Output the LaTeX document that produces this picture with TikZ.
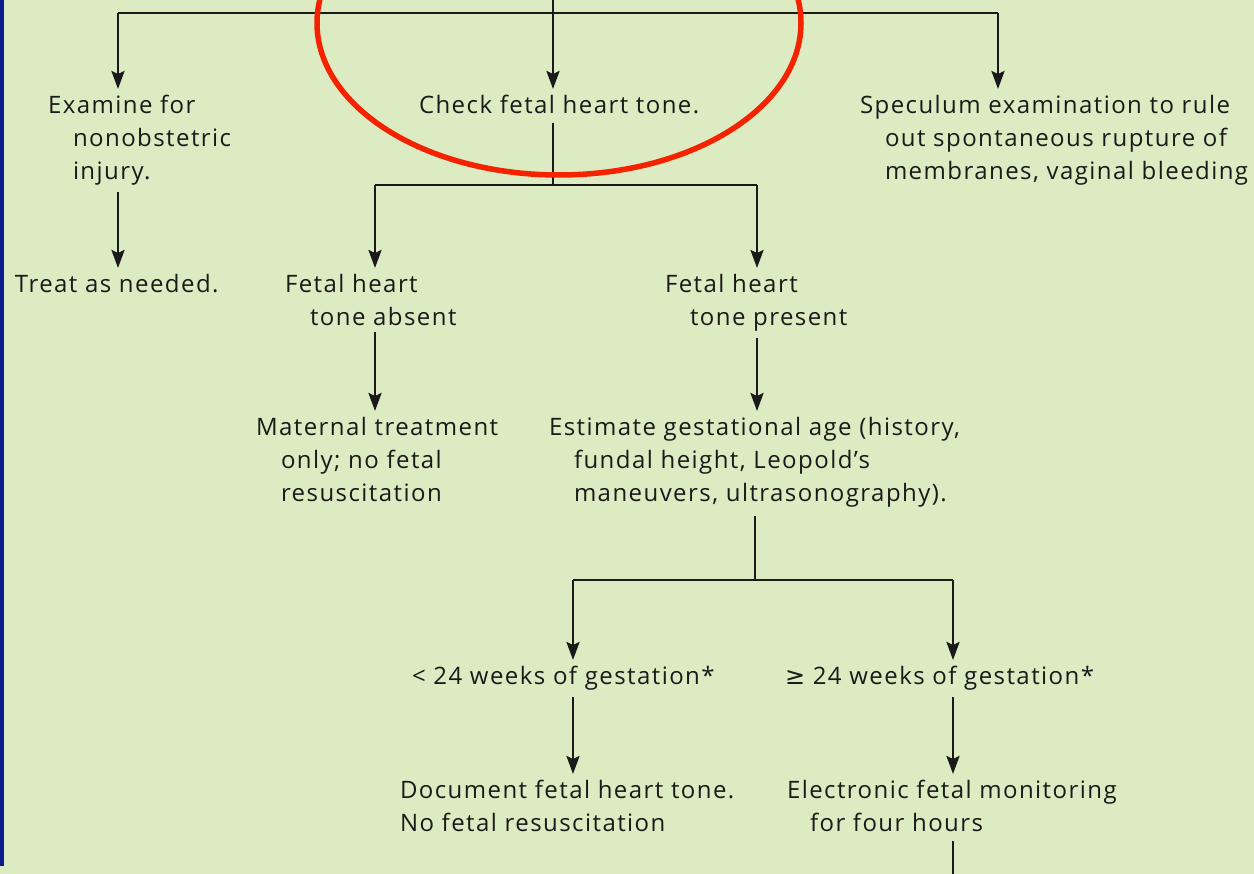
\documentclass[tikz,border=0pt]{standalone}
\usepackage{fontspec}
\setmainfont{Open Sans}[LetterSpace=6]
\newfontfamily\symfont{DejaVu Sans}
\usetikzlibrary{arrows.meta}
\definecolor{panel}{HTML}{DDEBC2}
\definecolor{edgeblue}{HTML}{0B1B8C}
\definecolor{ink}{HTML}{1A1A1A}
\definecolor{ringred}{HTML}{F52200}
\tikzset{
  lbl/.style={anchor=north west, inner sep=0pt, outer sep=0pt, align=left,
    text=ink, font=\fontsize{24}{33}\selectfont},
  wire/.style={draw=ink, line width=2.7pt},
  arr/.style={wire, -{Stealth[length=18pt, width=13pt, inset=3pt]},
    shorten <=7pt, shorten >=6pt},
}
\newcommand{\ind}{\hspace*{25pt}}
\begin{document}
\begin{tikzpicture}[x=1pt, y=-1pt]
  \useasboundingbox (0,0) rectangle (1254,874);
  \fill[panel] (0,0) rectangle (1254,874);
  \fill[edgeblue] (0,0) rectangle (3.5,866);

  % text blocks
  \node[lbl] (exam) at (48,95) {Examine for\\\ind nonobstetric\\\ind injury.};
  \node[lbl] (treat) at (15,274) {Treat as needed.};
  \node[lbl] (check) at (419,95) {Check fetal heart tone.};
  \node[lbl] (spec) at (860,95) {Speculum examination to rule\\\ind out spontaneous rupture of\\\ind membranes, vaginal bleeding};
  \node[lbl] (absent) at (285,274) {Fetal heart\\\ind tone absent};
  \node[lbl] (present) at (665,274) {Fetal heart\\\ind tone present};
  \node[lbl] (mat) at (256,417) {Maternal treatment\\\ind only; no fetal\\\ind resuscitation};
  \node[lbl] (est) at (549,417) {Estimate gestational age (history,\\\ind fundal height, Leopold’s\\\ind maneuvers, ultrasonography).};
  \node[lbl] (lt) at (412,666) {< 24 weeks of gestation*};
  \node[lbl] (ge) at (785,666) {{\symfont ≥} 24 weeks of gestation*};
  \node[lbl] (doc) at (400,780) {Document fetal heart tone.\\No fetal resuscitation};
  \node[lbl] (efm) at (787,780) {Electronic fetal monitoring\\\hspace*{23pt}for four hours};

  % branch points
  \coordinate (in) at (553,0);
  \coordinate (tL) at (118,13);
  \coordinate (tC) at (553,13);
  \coordinate (tR) at (998,13);
  \coordinate (mC) at (553,185);
  \coordinate (mL) at (375,185);
  \coordinate (mR) at (757,185);
  \coordinate (gS) at (755,580);
  \coordinate (gL) at (573,580);
  \coordinate (gR) at (953,580);
  \coordinate (out) at (953,874);

  % connectors
  \draw[wire] (in) -- (tC);
  \draw[wire] (tL) -- (tR);
  \draw[arr, shorten <=0pt] (tL) -- (exam.north -| tL);
  \draw[arr, shorten <=0pt] (tC) -- (check.north -| tC);
  \draw[arr, shorten <=0pt] (tR) -- (spec.north -| tR);
  \draw[arr] (exam.south -| tL) -- (treat.north -| tL);

  \draw[wire, shorten <=9pt] (check.south -| mC) -- (mC);
  \draw[wire] (mL) -- (mR);
  \draw[arr, shorten <=0pt] (mL) -- (absent.north -| mL);
  \draw[arr, shorten <=0pt] (mR) -- (present.north -| mR);
  \draw[arr] (absent.south -| mL) -- (mat.north -| mL);
  \draw[arr] (present.south -| mR) -- (est.north -| mR);

  \draw[wire, shorten <=9pt] (est.south -| gS) -- (gS);
  \draw[wire] (gL) -- (gR);
  \draw[arr, shorten <=0pt] (gL) -- (lt.north -| gL);
  \draw[arr, shorten <=0pt] (gR) -- (ge.north -| gR);
  \draw[arr] (lt.south -| gL) -- (doc.north -| gL);
  \draw[arr] (ge.south -| gR) -- (efm.north -| gR);
  \draw[wire, shorten <=9pt] (efm.south -| out) -- (out);

  % highlight ring
  \begin{scope}
    \clip (0,0) rectangle (1254,874);
    \draw[ringred, line width=5.5pt] (559,23) ellipse [x radius=242, y radius=152];
  \end{scope}
\end{tikzpicture}
\end{document}
